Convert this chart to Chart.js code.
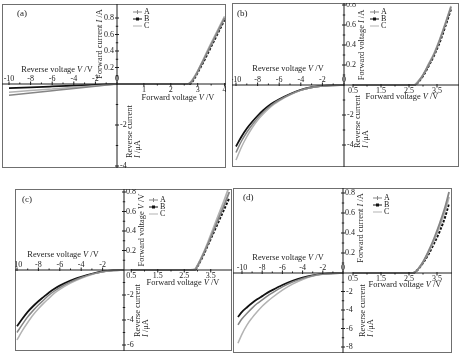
<!DOCTYPE html>
<html>
<head>
<meta charset="utf-8">
<script src="https://cdn.jsdelivr.net/npm/chart.js@4/dist/chart.umd.min.js"></script>
<style>
  html, body { margin: 0; background: #fff; }
  #wrap { position: relative; width: 460px; height: 358px; background: #fff; overflow: hidden; }
  #wrap canvas { position: absolute; }
</style>
</head>
<body>
<div id="wrap"></div>
<script>
/* I-V curves of LEDs A, B, C – four panels, forward (A) and reverse (uA) on one cross of axes */
const SERIES = ['A', 'B', 'C']

// (a)
const aFwdV = [0, 1, 2, 2.6, 2.7, 2.8, 2.9, 3.0, 3.2, 3.4, 3.6, 3.8, 4.0]
const aFwdA = [0, 0, 0, 0, 0.01, 0.04, 0.09, 0.15, 0.28, 0.41, 0.54, 0.67, 0.80]
const aFwdB = [0, 0, 0, 0, 0, 0.03, 0.08, 0.14, 0.26, 0.39, 0.52, 0.65, 0.78]
const aFwdC = [0, 0, 0, 0, 0.01, 0.05, 0.10, 0.16, 0.29, 0.43, 0.56, 0.69, 0.82]
const aRevV = [-10, -8, -6, -4, -2, -1, 0]
const aRevA = [-0.55, -0.44, -0.33, -0.22, -0.11, -0.05, 0]
const aRevB = [-0.2, -0.16, -0.12, -0.08, -0.04, -0.02, 0]
const aRevC = [-0.4, -0.32, -0.24, -0.16, -0.08, -0.04, 0]
const aTicksRevX = [-10, -8, -6, -4, -2, 0]
const aTicksFwdX = [1, 2, 3, 4]
const aTicksFwdY = [0.2, 0.4, 0.6, 0.8]
const aTicksRevY = [-2, -4]

// (b)
const bFwdV = [0.5, 2.5, 2.7, 2.8, 3.0, 3.2, 3.4, 3.6, 3.8, 4.0]
const bFwdA = [0, 0, 0, 0.02, 0.10, 0.20, 0.31, 0.45, 0.61, 0.78]
const bFwdB = [0, 0, 0, 0.02, 0.09, 0.19, 0.30, 0.43, 0.59, 0.76]
const bFwdC = [0, 0, 0, 0.03, 0.10, 0.21, 0.32, 0.46, 0.62, 0.79]
const bRevV = [-10, -9.5, -9, -8.5, -8, -7.5, -7, -6.5, -6, -5, -4, -3, -2, -1, 0]
const bRevA = [-4.5, -3.75, -3.15, -2.65, -2.2, -1.82, -1.5, -1.22, -1.0, -0.63, -0.34, -0.16, -0.07, -0.02, 0]
const bRevB = [-4.1, -3.45, -2.9, -2.45, -2.05, -1.7, -1.4, -1.15, -0.95, -0.6, -0.32, -0.15, -0.06, -0.02, 0]
const bRevC = [-5.0, -4.15, -3.45, -2.85, -2.35, -1.95, -1.6, -1.3, -1.05, -0.66, -0.36, -0.17, -0.07, -0.02, 0]
const bTicksRevX = [-10, -8, -6, -4, -2, 0]
const bTicksFwdX = [0.5, 1.5, 2.5, 3.5]
const bTicksFwdY = [0.2, 0.4, 0.6, 0.8]
const bTicksRevY = [-2, -4]

// (c)
const cFwdV = [0.5, 2.5, 2.9, 3.0, 3.2, 3.4, 3.6, 3.8, 4.0, 4.2]
const cFwdA = [0, 0, 0, 0.04, 0.15, 0.27, 0.40, 0.53, 0.66, 0.80]
const cFwdB = [0, 0, 0, 0.04, 0.14, 0.26, 0.38, 0.50, 0.62, 0.74]
const cFwdC = [0, 0, 0.01, 0.05, 0.16, 0.29, 0.43, 0.57, 0.71, 0.86]
const cRevV = [-10, -9.5, -9, -8.5, -8, -7.5, -7, -6.5, -6, -5, -4, -3, -2, -1, 0]
const cRevA = [-5.0, -4.35, -3.75, -3.25, -2.8, -2.4, -2.0, -1.68, -1.4, -0.95, -0.6, -0.33, -0.13, -0.03, 0]
const cRevB = [-4.5, -3.9, -3.35, -2.9, -2.5, -2.15, -1.8, -1.5, -1.25, -0.85, -0.55, -0.3, -0.12, -0.03, 0]
const cRevC = [-5.6, -4.85, -4.2, -3.6, -3.1, -2.65, -2.25, -1.85, -1.55, -1.05, -0.66, -0.36, -0.15, -0.04, 0]
const cTicksRevX = [-10, -8, -6, -4, -2]
const cTicksFwdX = [0.5, 1.5, 2.5, 3.5]
const cTicksFwdY = [0.2, 0.4, 0.6, 0.8]
const cTicksRevY = [-2, -4, -6]

// (d)
const dFwdV = [0.5, 2.5, 2.64, 2.8, 3.0, 3.2, 3.4, 3.6, 3.8, 3.93]
const dFwdA = [0, 0, 0, 0.03, 0.11, 0.22, 0.35, 0.50, 0.67, 0.81]
const dFwdB = [0, 0, 0, 0.03, 0.10, 0.19, 0.30, 0.42, 0.57, 0.70]
const dFwdC = [0, 0, 0, 0.03, 0.11, 0.21, 0.33, 0.47, 0.63, 0.76]
const dRevV = [-10.4, -10, -9.5, -9, -8.5, -8, -7.5, -7, -6, -5, -4, -3, -2, -1, 0]
const dRevA = [-5.6, -4.95, -4.35, -3.8, -3.3, -2.9, -2.5, -2.15, -1.5, -0.98, -0.58, -0.29, -0.11, -0.03, 0]
const dRevB = [-4.75, -4.2, -3.7, -3.25, -2.85, -2.5, -2.15, -1.85, -1.3, -0.85, -0.5, -0.25, -0.1, -0.03, 0]
const dRevC = [-7.6, -6.6, -5.6, -4.85, -4.2, -3.6, -3.1, -2.65, -1.85, -1.2, -0.7, -0.34, -0.13, -0.04, 0]
const dTicksRevX = [-10, -8, -6, -4, -2, 0]
const dTicksFwdX = [0.5, 1.5, 2.5, 3.5]
const dTicksFwdY = [0.2, 0.4, 0.6, 0.8]
const dTicksRevY = [-2, -4, -6, -8]

const STYLE = {
  A: { color: '#858585', width: 1.5 },
  B: { color: '#111111', width: 1.8 },
  C: { color: '#b3b3b3', width: 1.5 }
}
const FONT = '"Liberation Serif", "DejaVu Serif", serif'
const TICK_PX = 8
const TITLE_PX = 8.4

const T_REV_X = [['Reverse voltage ', 0], ['V', 1], [' /V', 0]]
const T_FWD_X = [['Forward voltage ', 0], ['V', 1], [' /V', 0]]
const T_FWD_I = [['Forward current ', 0], ['I', 1], [' /A', 0]]
const T_FWD_VI = [['Forward voltage ', 0], ['I', 1], [' /A', 0]]
const T_FWD_VV = [['Forward voltage ', 0], ['V', 1], [' /V', 0]]
const T_REV_1 = [['Reverse current', 0]]
const T_REV_2 = [['I', 1], [' /\u03bcA', 0]]

// pixel layout (page coords)
const panels = [
  {
    tag: '(a)', box: [2, 4, 226, 168], cross: [117, 84], fwdX0: 117,
    k: { revX: 10.8, fwdX: 26.9, fwdY: 82.5, revY: 20.5 },
    fwd: [aFwdV, aFwdA, aFwdB, aFwdC], rev: [aRevV, aRevA, aRevB, aRevC],
    ticks: { revX: aTicksRevX, fwdX: aTicksFwdX, fwdY: aTicksFwdY, revY: aTicksRevY },
    fwdYSide: 'left', fwdYTitle: T_FWD_I,
    pos: { tag: [17, 14], legend: [133, 12], fwdY: [100, 44], revY: [130, 158], revX: [57, 70], fwdX: [178, 98] }
  },
  {
    tag: '(b)', box: [232, 3, 459, 167], cross: [344, 85], fwdX0: 339,
    k: { revX: 10.8, fwdX: 28, fwdY: 100, revY: 15 },
    fwd: [bFwdV, bFwdA, bFwdB, bFwdC], rev: [bRevV, bRevA, bRevB, bRevC],
    ticks: { revX: bTicksRevX, fwdX: bTicksFwdX, fwdY: bTicksFwdY, revY: bTicksRevY },
    fwdYSide: 'right', fwdYTitle: T_FWD_VI,
    pos: { tag: [237, 14], legend: [370, 12], fwdY: [362, 45], revY: [358, 148], revX: [288, 69], fwdX: [402, 97] }
  },
  {
    tag: '(c)', box: [15, 189, 232, 351], cross: [124, 270], fwdX0: 118,
    k: { revX: 10.7, fwdX: 26.5, fwdY: 97.5, revY: 12.5 },
    fwd: [cFwdV, cFwdA, cFwdB, cFwdC], rev: [cRevV, cRevA, cRevB, cRevC],
    ticks: { revX: cTicksRevX, fwdX: cTicksFwdX, fwdY: cTicksFwdY, revY: cTicksRevY },
    fwdYSide: 'right', fwdYTitle: T_FWD_VV,
    pos: { tag: [22, 200], legend: [149, 200], fwdY: [142, 230], revY: [138, 337], revX: [63, 255], fwdX: [183, 283] }
  },
  {
    tag: '(d)', box: [233, 188, 452, 353], cross: [343, 273], fwdX0: 339,
    k: { revX: 10.1, fwdX: 28, fwdY: 100, revY: 9.25 },
    fwd: [dFwdV, dFwdA, dFwdB, dFwdC], rev: [dRevV, dRevA, dRevB, dRevC],
    ticks: { revX: dTicksRevX, fwdX: dTicksFwdX, fwdY: dTicksFwdY, revY: dTicksRevY },
    fwdYSide: 'right', fwdYTitle: T_FWD_I,
    pos: { tag: [243, 198], legend: [373, 198], fwdY: [361, 228], revY: [363, 337], revX: [288, 258], fwdX: [405, 285] }
  }
]

function rich (ctx, parts, x, y, align, size) {
  let w = 0
  parts.forEach(([t, it]) => {
    ctx.font = (it ? 'italic ' : '') + size + 'px ' + FONT
    w += ctx.measureText(t).width
  })
  let px = align === 'center' ? x - w / 2 : align === 'right' ? x - w : x
  ctx.textAlign = 'left'
  parts.forEach(([t, it]) => {
    ctx.font = (it ? 'italic ' : '') + size + 'px ' + FONT
    ctx.fillText(t, px, y)
    px += ctx.measureText(t).width
  })
}

function seg (ctx, x1, y1, x2, y2) {
  ctx.beginPath()
  ctx.moveTo(x1, y1)
  ctx.lineTo(x2, y2)
  ctx.stroke()
}

function mids (arr) {
  const out = []
  for (let i = 1; i < arr.length; i++) out.push((arr[i - 1] + arr[i]) / 2)
  return out
}

function crossAxes (p) {
  return {
    id: 'crossAxes',
    afterDatasetsDraw (chart) {
      const { ctx, chartArea: ca, scales } = chart
      const { xR, xF, yF, yR } = scales
      const ox = p.box[0], oy = p.box[1]
      const cx = xR.getPixelForValue(0)
      const cy = yF.getPixelForValue(0)
      const tk = p.ticks

      ctx.save()
      ctx.fillStyle = '#1c1c1c'

      // frame
      ctx.strokeStyle = '#6f6f6f'
      ctx.lineWidth = 1
      ctx.strokeRect(ca.left + 0.5, ca.top + 0.5, ca.width - 1, ca.height - 1)

      // axis lines
      ctx.strokeStyle = '#1c1c1c'
      seg(ctx, ca.left, cy, ca.right, cy)
      seg(ctx, cx, ca.top, cx, ca.bottom)

      // tick marks
      tk.revX.forEach(v => seg(ctx, xR.getPixelForValue(v), cy - 2.5, xR.getPixelForValue(v), cy + 1))
      mids(tk.revX).forEach(v => seg(ctx, xR.getPixelForValue(v), cy - 1.5, xR.getPixelForValue(v), cy))
      tk.fwdX.forEach(v => seg(ctx, xF.getPixelForValue(v), cy - 1, xF.getPixelForValue(v), cy + 2.5))
      mids(tk.fwdX).forEach(v => seg(ctx, xF.getPixelForValue(v), cy, xF.getPixelForValue(v), cy + 1.5))
      tk.fwdY.forEach(v => seg(ctx, cx - 2, yF.getPixelForValue(v), cx + 2, yF.getPixelForValue(v)))
      mids([0, ...tk.fwdY]).forEach(v => seg(ctx, cx - 1.2, yF.getPixelForValue(v), cx + 1.2, yF.getPixelForValue(v)))
      tk.revY.forEach(v => seg(ctx, cx - 2, yR.getPixelForValue(v), cx + 2, yR.getPixelForValue(v)))
      mids([0, ...tk.revY]).forEach(v => seg(ctx, cx - 1.2, yR.getPixelForValue(v), cx + 1.2, yR.getPixelForValue(v)))

      // tick labels
      ctx.font = TICK_PX + 'px ' + FONT
      ctx.textAlign = 'center'
      ctx.textBaseline = 'bottom'
      tk.revX.forEach(v => ctx.fillText(String(v), xR.getPixelForValue(v), cy - 1))
      ctx.textBaseline = 'top'
      tk.fwdX.forEach(v => ctx.fillText(String(v), xF.getPixelForValue(v), cy + 2))
      ctx.textBaseline = 'middle'
      ctx.textAlign = p.fwdYSide === 'left' ? 'right' : 'left'
      const fx = p.fwdYSide === 'left' ? cx - 3 : cx + 2
      tk.fwdY.forEach(v => ctx.fillText(v.toFixed(1), fx, yF.getPixelForValue(v)))
      ctx.textAlign = 'left'
      tk.revY.forEach(v => ctx.fillText(String(v), cx + 3, yR.getPixelForValue(v)))

      // axis titles
      const pos = p.pos
      ctx.textBaseline = 'middle'
      rich(ctx, T_REV_X, pos.revX[0] - ox, pos.revX[1] - oy, 'center', TITLE_PX)
      rich(ctx, T_FWD_X, pos.fwdX[0] - ox, pos.fwdX[1] - oy, 'center', TITLE_PX)

      ctx.save()
      ctx.translate(pos.fwdY[0] - ox, pos.fwdY[1] - oy)
      ctx.rotate(-Math.PI / 2)
      rich(ctx, p.fwdYTitle, 0, 0, 'center', TITLE_PX)
      ctx.restore()

      ctx.save()
      ctx.translate(pos.revY[0] - ox, pos.revY[1] - oy)
      ctx.rotate(-Math.PI / 2)
      rich(ctx, T_REV_1, 0, 0, 'left', TITLE_PX)
      rich(ctx, T_REV_2, 0, 7.5, 'left', TITLE_PX)
      ctx.restore()

      // panel tag
      ctx.font = '9px ' + FONT
      ctx.textAlign = 'left'
      ctx.fillText(p.tag, pos.tag[0] - ox, pos.tag[1] - oy)

      // legend
      const lx = pos.legend[0] - ox, ly = pos.legend[1] - oy
      SERIES.forEach((s, i) => {
        const y = ly + i * 7
        const st = STYLE[s]
        ctx.strokeStyle = st.color
        ctx.fillStyle = st.color
        ctx.lineWidth = 1
        seg(ctx, lx, y, lx + 9, y)
        if (s === 'A') seg(ctx, lx + 4.5, y - 2, lx + 4.5, y + 2)
        if (s === 'B') ctx.fillRect(lx + 3, y - 1.5, 3, 3)
        ctx.fillStyle = '#1c1c1c'
        ctx.font = TICK_PX + 'px ' + FONT
        ctx.fillText(s, lx + 11, y)
      })

      ctx.restore()
    }
  }
}

function makeChart (p) {
  const W = p.box[2] - p.box[0]
  const H = p.box[3] - p.box[1]
  const cx = p.cross[0] - p.box[0]
  const cy = p.cross[1] - p.box[1]
  const fx0 = p.fwdX0 - p.box[0]

  const canvas = document.createElement('canvas')
  canvas.width = W
  canvas.height = H
  canvas.style.left = p.box[0] + 'px'
  canvas.style.top = p.box[1] + 'px'
  canvas.style.width = W + 'px'
  canvas.style.height = H + 'px'
  document.getElementById('wrap').appendChild(canvas)

  const datasets = []
  SERIES.forEach((s, si) => {
    const st = STYLE[s]
    const fv = p.fwd[0], fi = p.fwd[si + 1]
    const rv = p.rev[0], ri = p.rev[si + 1]
    datasets.push({
      label: s,
      data: fv.map((v, i) => ({ x: v, y: fi[i] })),
      xAxisID: 'xF', yAxisID: 'yF',
      borderColor: st.color, borderWidth: st.width + 0.3,
      borderDash: s === 'B' ? [2.5, 1.5] : [],
      pointRadius: 0, cubicInterpolationMode: 'monotone'
    })
    datasets.push({
      label: s + ' rev',
      data: rv.map((v, i) => ({ x: v, y: ri[i] })),
      xAxisID: 'xR', yAxisID: 'yR',
      borderColor: st.color, borderWidth: st.width,
      pointRadius: 0, cubicInterpolationMode: 'monotone'
    })
  })

  // reverse first, and the black series drawn last in each group
  datasets.sort((a, b) => {
    const ga = a.xAxisID === 'xR' ? 0 : 1, gb = b.xAxisID === 'xR' ? 0 : 1
    if (ga !== gb) return ga - gb
    return (a.label[0] === 'B' ? 1 : 0) - (b.label[0] === 'B' ? 1 : 0)
  })

  return new Chart(canvas, {
    type: 'line',
    data: { datasets },
    options: {
      responsive: false,
      animation: false,
      devicePixelRatio: 1,
      layout: { padding: 0 },
      plugins: { legend: { display: false }, tooltip: { enabled: false } },
      scales: {
        xR: { type: 'linear', display: false, min: -cx / p.k.revX, max: (W - cx) / p.k.revX },
        xF: { type: 'linear', display: false, min: -fx0 / p.k.fwdX, max: (W - fx0) / p.k.fwdX },
        yF: { type: 'linear', display: false, min: -(H - cy) / p.k.fwdY, max: cy / p.k.fwdY },
        yR: { type: 'linear', display: false, min: -(H - cy) / p.k.revY, max: cy / p.k.revY }
      }
    },
    plugins: [crossAxes(p)]
  })
}

panels.forEach(makeChart)
</script>
</body>
</html>
